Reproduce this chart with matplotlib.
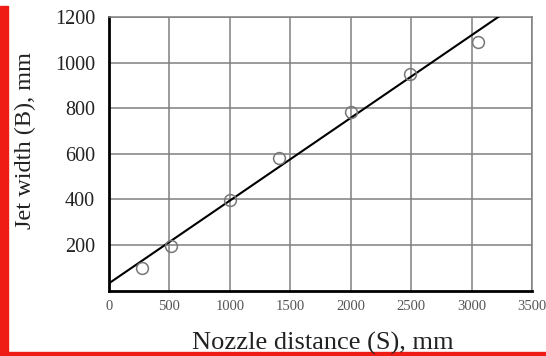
import numpy as np
import matplotlib.pyplot as plt
from matplotlib.patches import Rectangle

nozzle_distance = [275, 510, 1005, 1405, 2005, 2490, 3055]
jet_width = [98, 196, 398, 580, 785, 950, 1092]

# fitted straight line B = a + b*S
fit_intercept = 32
fit_slope = 0.3627

x_ticks = [0, 500, 1000, 1500, 2000, 2500, 3000, 3500]
y_ticks = [200, 400, 600, 800, 1000, 1200]

plt.rcParams['font.family'] = ['Liberation Serif', 'DejaVu Serif']

fig = plt.figure(figsize=(5.46, 3.56), dpi=100)
ax = fig.add_axes([109/546, 1 - 290.6/356, (532 - 109)/546, (290.6 - 17)/356])

# red frame pieces
red = '#ee1c14'
fig.patches.append(Rectangle((0, 0), 8/546, 350/356, transform=fig.transFigure,
                             color=red, zorder=0))
fig.patches.append(Rectangle((8/546, 1/356), 538/546, 3/356, transform=fig.transFigure,
                             color=red, zorder=0))

s = np.array([0, 3500])
ax.plot(s, fit_intercept + fit_slope*s, color='black', lw=1.5, zorder=3)
ax.plot(nozzle_distance, jet_width, 'o', ms=8.5, mfc='none', mec='#777777',
        mew=1.1, zorder=4)

ax.set_xlim(0, 3500)
ax.set_ylim(0, 1200)
ax.set_xticks(x_ticks)
ax.set_yticks(y_ticks)
ax.grid(True, color='#808080', lw=1.1)
ax.set_axisbelow(True)

for side in ['top', 'right']:
    ax.spines[side].set_color('#808080')
    ax.spines[side].set_linewidth(1.1)
for side in ['left', 'bottom']:
    ax.spines[side].set_color('black')
    ax.spines[side].set_linewidth(2)

ax.tick_params(length=0)
ax.tick_params(axis='y', labelsize=14.5, pad=10, labelcolor='#222222')
ax.tick_params(axis='x', labelsize=10.5, pad=7, labelcolor='#555555')

fig.text(323/546, 1 - 343/356, 'Nozzle distance (S), mm', ha='center',
         va='center', fontsize=19, color='#222222')
fig.text(25/546, 1 - 140/356, 'Jet width (B), mm', ha='center', va='center',
         rotation=90, fontsize=17.5, color='#222222')

fig.savefig('out.png', dpi=100)
